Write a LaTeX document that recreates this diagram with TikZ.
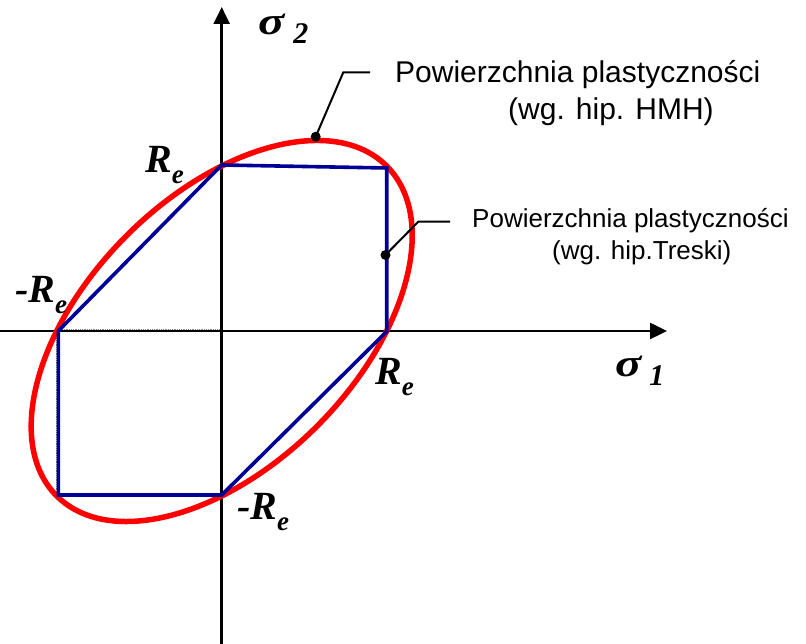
\documentclass[tikz,border=0pt]{standalone}
\usepackage{fontspec}
\setmainfont{Liberation Sans}
\newfontfamily\tnr{Liberation Serif}
\usetikzlibrary{arrows.meta}
\definecolor{hmhred}{RGB}{255,0,0}
\definecolor{trblue}{RGB}{0,0,150}
\tikzset{
  axisline/.style={line width=2.5pt, black, -{Triangle[length=17pt,width=16pt]}},
  hmhline/.style={line width=5.5pt, hmhred},
  trline/.style={line width=3.6pt, trblue, line join=miter},
  leader/.style={line width=2pt, black},
  leaderdot/.style={circle, fill=black, inner sep=0pt, minimum size=10pt},
  guide/.style={line width=0.8pt, gray, densely dotted},
  lblhmh/.style={font=\fontsize{30}{36}\selectfont, inner sep=0pt, anchor=base west},
  lbltr/.style={font=\fontsize{26}{31}\selectfont, inner sep=0pt, anchor=base west},
  mathlbl/.style={font=\tnr\bfseries\itshape\fontsize{40}{46}\selectfont, inner sep=0pt, anchor=base west},
}
\newcommand{\subE}{\raisebox{-11pt}{\fontsize{27}{30}\selectfont e}}
\newcommand{\sigmaglyph}{\scalebox{1.25}[1]{\fontsize{39}{42}\selectfont σ}}
\newcommand{\idx}[1]{\raisebox{-9pt}{\fontsize{30}{34}\selectfont #1}}
\begin{document}
\begin{tikzpicture}[x=1pt,y=1pt]
\useasboundingbox (0,0) rectangle (806,644);
% origin and vertices
\coordinate (O) at (221.7,313);
\coordinate (A) at (221.7,479);
\coordinate (B) at (386.7,476);
\coordinate (C) at (386.7,312.5);
\coordinate (D) at (221.7,149);
\coordinate (E) at (58.3,149);
\coordinate (F) at (58.3,313);
\coordinate (xs) at (0,313);
\coordinate (xe) at (667,313);
\coordinate (ys) at (221.7,0);
\coordinate (ye) at (221.7,637);
% guides
\draw[guide] (58.3,314.3) -- (221.7,314.3);
\draw[guide] (56.4,313) -- (56.4,149);
\draw[guide] (220.1,479) -- (220.1,149);
% axes
\draw[axisline] (xs) -- (xe);
\draw[axisline] (ys) -- (ye);
% HMH ellipse
\draw[hmhline, rotate around={45:(O)}] (O) ellipse [x radius=233.3, y radius=134.7];
% Tresca hexagon
\draw[trline] (A) -- (B) -- (C) -- (D) -- (E) -- (F) -- cycle;
% leaders
\node[leaderdot] (d1) at (315.7,507.3) {};
\coordinate (k1) at (343.3,571.7);
\coordinate (e1) at (370,571.7);
\draw[leader] (d1.center) -- (k1) -- (e1);
\node[leaderdot] (d2) at (385.5,389) {};
\coordinate (k2) at (418.3,422.3);
\coordinate (e2) at (450,422.3);
\draw[leader] (d2.center) -- (k2) -- (e2);
% texts
\node[lblhmh] (t1a) at (395,561) {Powierzchnia plastyczności};
\node[lblhmh] (t1b) at (508,524) {(wg. hip. HMH)};
\node[lbltr] (t2a) at (472,416) {Powierzchnia plastyczności};
\node[lbltr] (t2b) at (552,384) {(wg. hip.Treski)};
% math labels
\node[mathlbl] (s2) at (258,609) {\sigmaglyph\hspace{9pt}\idx{2}};
\node[mathlbl] (s1) at (615,267) {\sigmaglyph\hspace{8pt}\idx{1}};
\node[mathlbl] (r1) at (145,471) {R\subE};
\node[mathlbl] (r2) at (15,341) {-R\subE};
\node[mathlbl] (r3) at (375,259) {R\subE};
\node[mathlbl] (r4) at (237,124) {-R\subE};
\end{tikzpicture}
\end{document}
